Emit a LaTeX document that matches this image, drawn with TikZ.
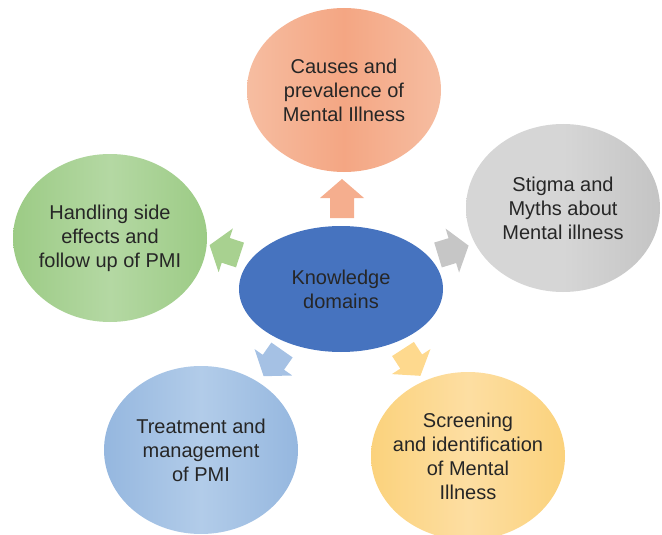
\documentclass[tikz,border=0pt]{standalone}
\usepackage{fontspec}
\setmainfont{Liberation Sans}
\usepackage{tikz}
\usetikzlibrary{shapes.geometric}

\definecolor{hubblue}{HTML}{4673BF}
\definecolor{textgray}{HTML}{262626}
\definecolor{orangeedge}{HTML}{F6BDA1}
\definecolor{orangemid}{HTML}{F4A683}
\definecolor{grayedge}{HTML}{C4C4C4}
\definecolor{graymid}{HTML}{D6D6D6}
\definecolor{greenedge}{HTML}{9CCB85}
\definecolor{greenmid}{HTML}{B4D8A3}
\definecolor{blueedge}{HTML}{95B7DF}
\definecolor{bluemid}{HTML}{B2CCE9}
\definecolor{yellowedge}{HTML}{FBD27C}
\definecolor{yellowmid}{HTML}{FDDEA2}
\definecolor{arroworange}{HTML}{F5AE8E}
\definecolor{arrowgray}{HTML}{C6C6C6}
\definecolor{arrowgreen}{HTML}{A8D190}
\definecolor{arrowblue}{HTML}{A5C1E4}
\definecolor{arrowyellow}{HTML}{FED98E}

\tikzset{
    bubble/.style={
        ellipse,
        inner sep=0pt,
        minimum width=194pt,
        minimum height=168pt
    },
    bubbletext/.style={
        align=center,
        text=textgray,
        font=\fontsize{20}{24}\selectfont
    }
}

\begin{document}
\begin{tikzpicture}[x=1pt, y=-1pt]

\useasboundingbox (0,0) rectangle (662,535);

% ---------------- HUB ----------------

\node[
    ellipse,
    fill=hubblue,
    inner sep=0pt,
    minimum width=204pt,
    minimum height=126pt
] (hub) at (341,289) {};

\node[bubbletext] (hubtext) at (hub.center) {Knowledge\\domains};


% ---------------- DOMAINS ----------------

% causes
\node[
    bubble,
    minimum height=164pt,
    left color=orangeedge,
    right color=orangeedge,
    middle color=orangemid
] (causes) at (344,90) {};

\node[bubbletext] (causestext) at (causes.center)
    {Causes and\\prevalence of\\Mental Illness};

% stigma
\node[
    bubble,
    left color=graymid,
    right color=grayedge,
    middle color=graymid
] (stigma) at (563,208) {};

\node[bubbletext] (stigmatext) at (stigma.center)
    {Stigma and\\Myths about\\Mental illness};

% side effects
\node[
    bubble,
    left color=greenedge,
    right color=greenedge,
    middle color=greenmid
] (sideeffects) at (110,238) {};

\node[bubbletext] (sideeffectstext) at (sideeffects.center)
    {Handling side\\effects and\\follow up of PMI};

% treatment
\node[
    bubble,
    left color=blueedge,
    right color=blueedge,
    middle color=bluemid
] (treatment) at (201,450) {};

\node[bubbletext] (treatmenttext) at (treatment.center)
    {Treatment and\\management\\of PMI};

% screening
\node[
    bubble,
    left color=yellowedge,
    right color=yellowedge,
    middle color=yellowmid
] (screening) at (468,456) {};

\node[bubbletext] (screeningtext) at (screening.center)
    {Screening\\and identification\\of Mental\\Illness};


% ---------------- ARROWS ----------------

% up
\fill[arroworange, shift={(342,218)}, rotate=90]
    (0pt,-12pt) -- (20pt,-12pt) -- (20pt,-22pt) -- (39pt,0pt)
    -- (20pt,22pt) -- (20pt,12pt) -- (0pt,12pt) -- cycle;

% right
\fill[arrowgray, shift={(438,255)}, rotate=17]
    (0pt,-13pt) -- (15pt,-13pt) -- (15pt,-23pt) -- (32pt,0pt)
    -- (15pt,23pt) -- (15pt,13pt) -- (0pt,13pt) -- cycle;

% left
\fill[arrowgreen, shift={(240,255)}, rotate=162]
    (0pt,-13pt) -- (15pt,-13pt) -- (15pt,-23pt) -- (32pt,0pt)
    -- (15pt,23pt) -- (15pt,13pt) -- (0pt,13pt) -- cycle;

% down left
\fill[arrowblue, shift={(282,350)}, rotate=235]
    (0pt,-13pt) -- (15pt,-13pt) -- (15pt,-23pt) -- (32pt,0pt)
    -- (15pt,23pt) -- (15pt,13pt) -- (0pt,13pt) -- cycle;

% down right
\fill[arrowyellow, shift={(403,349)}, rotate=303]
    (0pt,-13pt) -- (15pt,-13pt) -- (15pt,-23pt) -- (32pt,0pt)
    -- (15pt,23pt) -- (15pt,13pt) -- (0pt,13pt) -- cycle;

\end{tikzpicture}
\end{document}
